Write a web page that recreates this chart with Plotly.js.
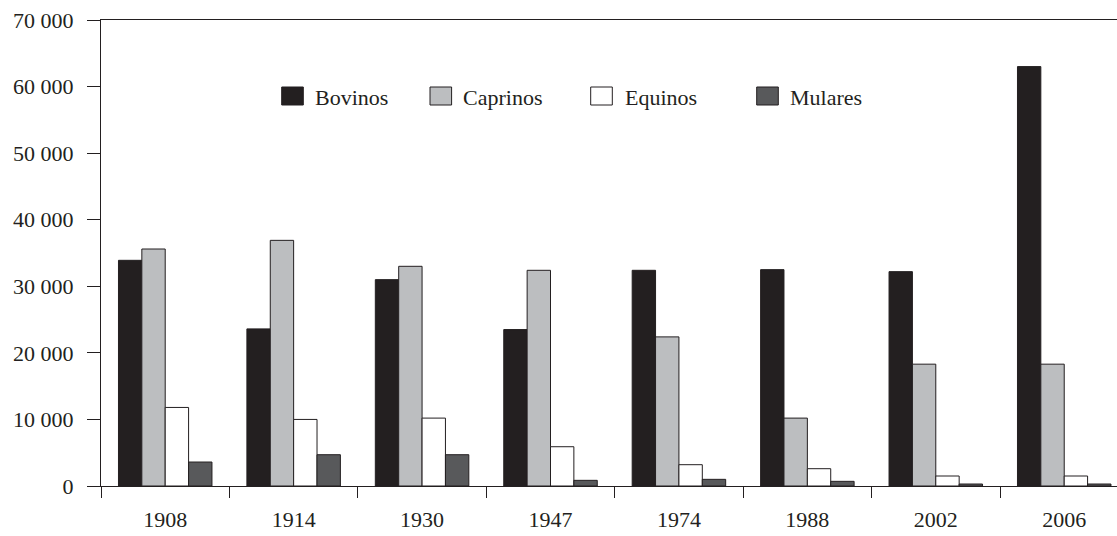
<!DOCTYPE html>
<html><head><meta charset="utf-8">
<script src="https://cdn.plot.ly/plotly-3.0.1.min.js"></script>
<style>html,body{margin:0;padding:0;background:#fff}#chart{width:1117px;height:536px}</style>
</head><body><div id="chart"></div>
<script>
const years = ['1908','1914','1930','1947','1974','1988','2002','2006'];
const seriesNames = ['Bovinos','Caprinos','Equinos','Mulares'];
const bovinos  = [33900,23600,31000,23500,32400,32500,32200,63000];
const caprinos = [35600,36900,33000,32400,22400,10200,18300,18300];
const equinos  = [11800,10000,10200,5900,3200,2600,1500,1500];
const mulares  = [3600,4700,4700,850,1000,700,300,300];
const yTicks = [0,10000,20000,30000,40000,50000,60000,70000];

const seriesValues = [bovinos, caprinos, equinos, mulares];
const colors = ['#231f20','#bcbec0','#ffffff','#58595b'];
const ink = '#231f20';
const font = {family:'Liberation Serif, Times New Roman, serif', size:22, color:ink};

const traces = seriesNames.map((n,i)=>({
  type:'bar', name:n, x:years, y:seriesValues[i],
  marker:{color:colors[i], line:{color:ink, width:1}},
  showlegend:false, hoverinfo:'x+y+name'
}));

// custom legend (pixel geometry -> paper)
const L=101, W=1016, B=486, H=466;
const px = v => (v-L)/W, py = v => (B-v)/H;
const sqLeft = [281.7, 430, 590.7, 756.7];
const txtLeft = [313, 461, 622.7, 788.3];
const shapes = [], annotations = [];
seriesNames.forEach((n,i)=>{
  shapes.push({type:'rect', xref:'paper', yref:'paper',
    x0:px(sqLeft[i]), x1:px(sqLeft[i]+21.6), y0:py(105), y1:py(87),
    fillcolor:colors[i], line:{color:ink, width:1}});
  annotations.push({xref:'paper', yref:'paper', x:px(txtLeft[i]), y:py(97),
    xanchor:'left', yanchor:'middle', text:n, showarrow:false, font:font});
});

const layout = {
  width:1117, height:536,
  margin:{l:101, r:0, t:20, b:50, pad:0},
  paper_bgcolor:'#fff', plot_bgcolor:'#fff',
  font:font,
  separators:', ',
  barmode:'group', bargap:0.272, bargroupgap:0,
  xaxis:{type:'category', range:[-0.5, 7.411], tickson:'boundaries',
    ticks:'outside', ticklen:11, tickwidth:1, tickcolor:ink,
    ticklabelstandoff:14,
    showline:true, linecolor:ink, linewidth:1, mirror:true,
    showgrid:false, zeroline:false, tickfont:font, fixedrange:true},
  yaxis:{range:[0,70000], tickvals:yTicks, tickformat:',d',
    ticks:'outside', ticklen:13, tickwidth:1, tickcolor:ink,
    ticklabelstandoff:9,
    showline:true, linecolor:ink, linewidth:1,
    showgrid:false, zeroline:false, tickfont:font, fixedrange:true},
  shapes:shapes, annotations:annotations
};
Plotly.newPlot('chart', traces, layout, {displayModeBar:false, staticPlot:true});
</script></body></html>
